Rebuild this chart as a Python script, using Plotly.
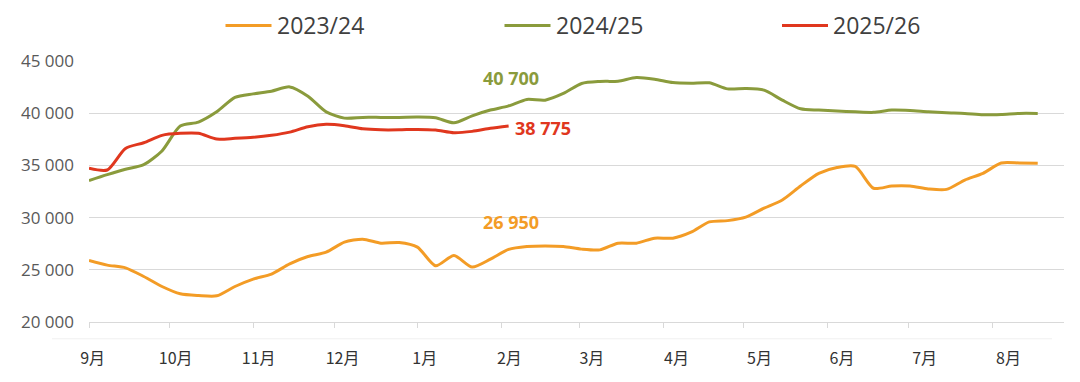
import plotly.graph_objects as go

# ---- data (weekly, week 0 = start of September) ----
months = ["9月", "10月", "11月", "12月", "1月", "2月", "3月", "4月", "5月", "6月", "7月", "8月"]
month_tick_pos = [0.04, 4.42, 9.03, 13.47, 17.98, 22.6, 26.9, 31.47, 35.9, 40.47, 44.9, 49.5]
month_label_pos = [0.2, 4.75, 9.3, 13.9, 18.4, 23.04, 27.56, 32.2, 36.75, 41.27, 45.8, 50.4]

s2023 = [25890, 25450, 25190, 24360, 23400, 22700, 22540, 22510, 23400, 24110,
         24590, 25570, 26270, 26690, 27650, 27930, 27550, 27610, 27170, 25380,
         26370, 25260, 26020, 26950, 27230, 27290, 27230, 26980, 26910, 27550,
         27550, 28030, 28030, 28600, 29590, 29710, 30040, 30900, 31690, 33030,
         34240, 34800, 34900, 32810, 33030, 33030, 32750, 32700, 33600, 34240,
         35230, 35230, 35200]
s2024 = [33540, 34110, 34630, 35070, 36380, 38770, 39150, 40130, 41510, 41850,
         42110, 42520, 41630, 40130, 39530, 39600, 39600, 39600, 39630, 39560,
         39080, 39750, 40300, 40700, 41320, 41250, 41890, 42850, 43040, 43070,
         43420, 43260, 42940, 42880, 42910, 42330, 42370, 42210, 41250, 40420,
         40300, 40200, 40130, 40080, 40300, 40260, 40130, 40040, 39980, 39850,
         39880, 39980, 39980]
s2025 = [34720, 34560, 36630, 37170, 37880, 38070, 38070, 37520, 37590, 37690,
         37880, 38190, 38700, 38930, 38800, 38510, 38410, 38410, 38450, 38390,
         38130, 38260, 38550, 38775]

series = [
    ("2023/24", s2023, "#F39C26"),
    ("2024/25", s2024, "#8A9B3C"),
    ("2025/26", s2025, "#E0371E"),
]

fig = go.Figure()
for name, vals, col in series:
    fig.add_trace(go.Scatter(
        x=list(range(len(vals))), y=vals, name=name, mode="lines",
        line=dict(color=col, width=3, shape="spline", smoothing=0.7),
        showlegend=False, hoverinfo="skip"))

# end-value labels
last = 23
lab_font = "Open Sans"
fig.add_annotation(x=last, y=s2024[last], text="<b>40 700</b>", showarrow=False,
                   font=dict(family=lab_font, size=18, color="#8A9B3C"),
                   xanchor="center", yanchor="middle", xshift=2, yshift=28)
fig.add_annotation(x=last, y=s2025[last], text="<b>38 775</b>", showarrow=False,
                   font=dict(family=lab_font, size=18, color="#E0371E"),
                   xanchor="left", yanchor="middle", xshift=4, yshift=-2)
fig.add_annotation(x=last, y=s2023[last], text="<b>26 950</b>", showarrow=False,
                   font=dict(family=lab_font, size=18, color="#F39C26"),
                   xanchor="center", yanchor="middle", xshift=2, yshift=27)

# page body has an 8px margin: size the figure so the plot lands where the reference has it
OFF = 8
W, H = 1080 - 2 * OFF, 382 - 2 * OFF
L, R, T, B = 81, 8, 53, 52
pw, ph = W - L - R, H - T - B
def px(x):
    return (x - OFF - L) / pw
def py(y):
    return (H - B - (y - OFF)) / ph

legend_items = [(225.5, "#F39C26", "2023/24"), (504.5, "#8A9B3C", "2024/25"), (782, "#E0371E", "2025/26")]
for x0, col, txt in legend_items:
    fig.add_shape(type="line", xref="paper", yref="paper",
                  x0=px(x0), x1=px(x0 + 46), y0=py(25.5), y1=py(25.5),
                  line=dict(color=col, width=3))
    fig.add_annotation(xref="paper", yref="paper", x=px(x0 + 49), y=py(25.5),
                       text=txt, showarrow=False, xanchor="left", yanchor="middle",
                       font=dict(family="Open Sans", size=23, color="#404040"))

# faint separator under the axis
fig.add_shape(type="line", xref="paper", yref="paper",
              x0=px(52), x1=px(1052), y0=py(338.8), y1=py(338.8),
              line=dict(color="#f0f0f0", width=1))

fig.update_layout(
    width=W, height=H,
    margin=dict(l=L, r=R, t=T, b=B),
    paper_bgcolor="white", plot_bgcolor="white",
    separators=", ",
    xaxis=dict(range=[0, 53.44], tickvals=month_tick_pos, ticktext=[""] * len(month_tick_pos),
               ticks="outside", ticklen=5, tickcolor="#d9d9d9", tickwidth=1,
               showgrid=False, zeroline=False, showline=True, linecolor="#d9d9d9", linewidth=1,
               automargin=False),
    xaxis2=dict(range=[0, 53.44], overlaying="x", anchor="y", side="bottom",
                tickvals=month_label_pos, ticktext=months, ticks="",
                showgrid=False, zeroline=False, showline=False, automargin=False,
                tickfont=dict(family="Noto Sans CJK SC", size=16, color="#333333"),
                ticklabelstandoff=25),
    yaxis=dict(range=[20000, 45000], tickvals=[20000, 25000, 30000, 35000, 40000, 45000],
               tickformat=",d", showgrid=True, gridcolor="#d9d9d9", gridwidth=1,
               zeroline=False, showline=False, ticks="", automargin=False,
               tickfont=dict(family="Open Sans", size=17, color="#595959"),
               ticklabelstandoff=14),
)
fig.add_trace(go.Scatter(x=[0], y=[None], xaxis="x2", yaxis="y", showlegend=False, hoverinfo="skip"))

fig.write_html("out.html")
